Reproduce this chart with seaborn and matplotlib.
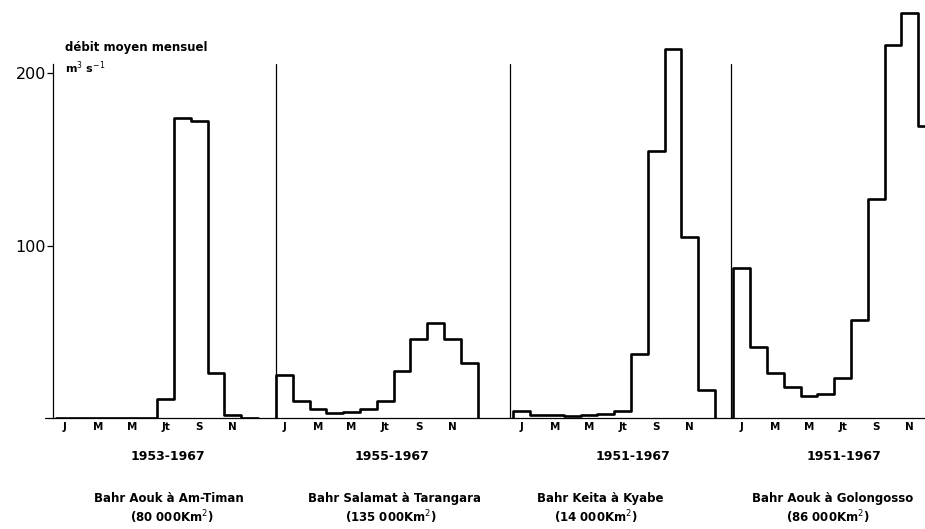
import numpy as np
import pandas as pd
import matplotlib.pyplot as plt
import seaborn as sns

sns.set_style('ticks')
plt.rcParams['font.family'] = 'DejaVu Sans'
plt.rcParams['text.color'] = 'black'
plt.rcParams['axes.edgecolor'] = 'black'
plt.rcParams['ytick.color'] = 'black'

# débits moyens mensuels (m3/s), janvier -> décembre
am_timan = [0, 0, 0, 0, 0, 0, 11, 174, 172, 26, 2, 0]
tarangara = [25, 10, 5, 3, 3.5, 5, 10, 27, 46, 55, 46, 32]
kyabe = [4, 2, 1.5, 1, 2, 2.5, 4, 37, 155, 214, 105, 16]
golongosso = [87, 41, 26, 18, 13, 14, 23, 57, 127, 216, 235, 169]

stations = ['Bahr Aouk à Am-Timan', 'Bahr Salamat à Tarangara',
            'Bahr Keita à Kyabe', 'Bahr Aouk à Golongosso']
areas = ['(80 000Km$^{2}$)', '(135 000Km$^{2}$)', '(14 000Km$^{2}$)', '(86 000Km$^{2}$)']
periods = ['1953-1967', '1955-1967', '1951-1967', '1951-1967']
month_labels = ['J', 'M', 'M', 'Jt', 'S', 'N']
month_idx = [0, 2, 4, 6, 8, 10]

series = [am_timan, tarangara, kyabe, golongosso]

# mise en page (unité = un mois)
panel_start = [0.2, 13.27, 27.4, 40.5]
sep_x = [0, 13.25, 27.2, 40.36]
period_x = [6.85, 20.2, 34.5, 47.1]
name_x = [6.9, 20.3, 32.6, 46.4]
area_x = [7.1, 20.1, 32.3, 46.1]

fig = plt.figure(figsize=(9.25, 5.29), dpi=100)
ax = fig.add_axes([53/925, 111/529, 872/925, 414/529])
xmax = 872/16.8
ax.set_xlim(0, xmax)
ax.set_ylim(0, 414/1.725)

for s, vals in zip(panel_start, series):
    x = [s] + [s + i for i in range(13)] + [s + 12]
    y = [0] + list(vals) + [vals[-1], 0]
    df = pd.DataFrame({'x': x, 'q': y})
    sns.lineplot(data=df, x='x', y='q', estimator=None, sort=False,
                 drawstyle='steps-post', color='black', lw=1.9, ax=ax)

# ligne de base et séparateurs
ax.plot([-0.5, xmax], [0, 0], color='black', lw=0.9, clip_on=False)
for s in sep_x[1:]:
    ax.plot([s, s], [0, 205], color='black', lw=0.9)

for sp in ['top', 'right', 'bottom']:
    ax.spines[sp].set_visible(False)
ax.spines['left'].set_bounds(0, 205)
ax.spines['left'].set_linewidth(0.9)
ax.set_yticks([100, 200])
ax.set_yticklabels(['100', '200'], fontsize=11.5)
ax.tick_params(axis='y', direction='out', length=4, width=0.9, pad=1)
ax.set_xticks([])
ax.set_xlabel('')
ax.set_ylabel('')

ax.text(0.7, 215, 'débit moyen mensuel', fontsize=8.5, fontweight='bold', va='center')
ax.text(0.7, 203, 'm$^{3}$ s$^{-1}$', fontsize=8, fontweight='bold', va='center')

for k in range(4):
    for i, lab in zip(month_idx, month_labels):
        ax.text(panel_start[k] + i + 0.5, -5, lab, fontsize=7.5, fontweight='bold',
                ha='center', va='center', clip_on=False)
    ax.text(period_x[k], -22.6, periods[k], fontsize=9, fontweight='bold',
            ha='center', va='center', clip_on=False)
    ax.text(name_x[k], -46.4, stations[k], fontsize=8.5, fontweight='bold',
            ha='center', va='center', clip_on=False)
    ax.text(area_x[k], -57.4, areas[k], fontsize=8.5, fontweight='bold',
            ha='center', va='center', clip_on=False)

fig.savefig('out.png', dpi=100)
